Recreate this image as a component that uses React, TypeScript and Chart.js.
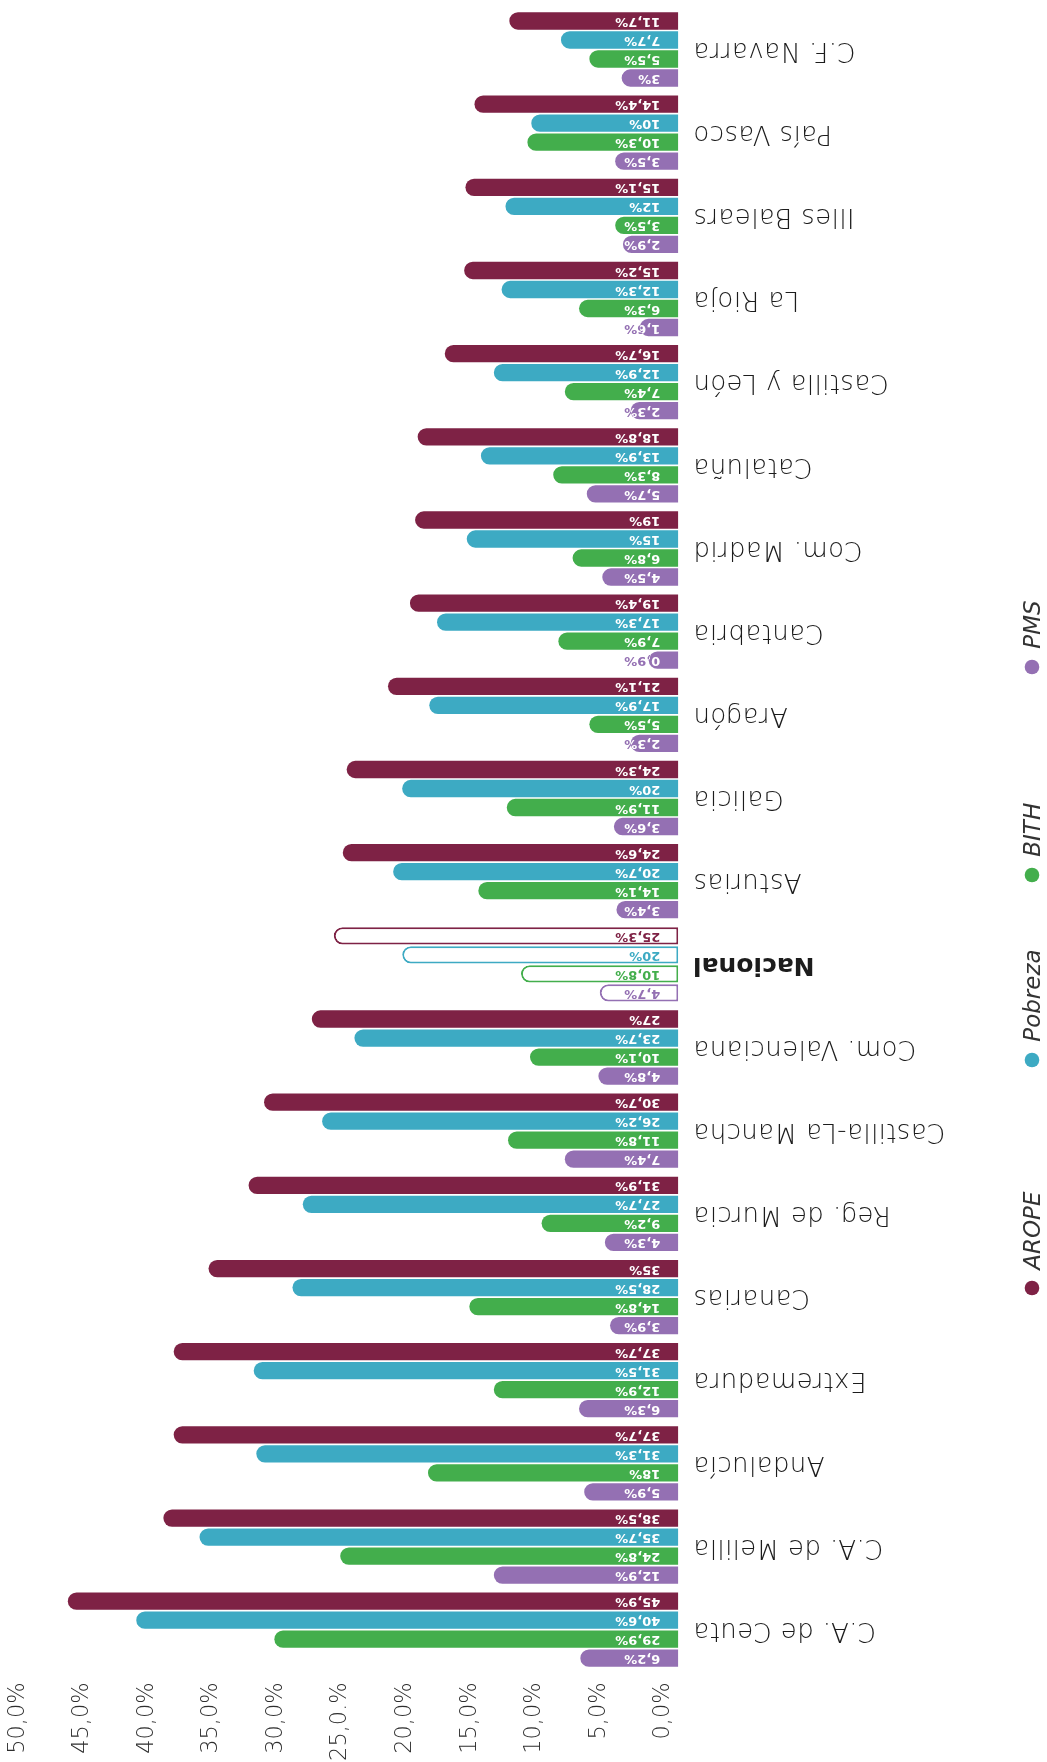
import React, { useEffect, useRef } from 'react';
import { Chart, registerables } from 'chart.js';

Chart.register(...registerables);

const categories = [
  'C.F. Navarra', 'País Vasco', 'Illes Balears', 'La Rioja', 'Castilla y León', 'Cataluña',
  'Com. Madrid', 'Cantabria', 'Aragón', 'Galicia', 'Asturias', 'Nacional', 'Com. Valenciana',
  'Castilla-La Mancha', 'Reg. de Murcia', 'Canarias', 'Extremadura', 'Andalucía',
  'C.A. de Melilla', 'C.A. de Ceuta',
];
const highlightCategory = 'Nacional';

const arope = [11.7, 14.4, 15.1, 15.2, 16.7, 18.8, 19, 19.4, 21.1, 24.3, 24.6, 25.3, 27, 30.7, 31.9, 35, 37.7, 37.7, 38.5, 45.9];
const pobreza = [7.7, 10, 12, 12.3, 12.9, 13.9, 15, 17.3, 17.9, 20, 20.7, 20, 23.7, 26.2, 27.7, 28.5, 31.5, 31.3, 35.7, 40.6];
const bith = [5.5, 10.3, 3.5, 6.3, 7.4, 8.3, 6.8, 7.9, 5.5, 11.9, 14.1, 10.8, 10.1, 11.8, 9.2, 14.8, 12.9, 18, 24.8, 29.9];
const pms = [3, 3.5, 2.9, 1.6, 2.3, 5.7, 4.5, 0.9, 2.3, 3.6, 3.4, 4.7, 4.8, 7.4, 4.3, 3.9, 6.3, 5.9, 12.9, 6.2];

const seriesNames = ['AROPE', 'Pobreza', 'BITH', 'PMS'];
const seriesData = [arope, pobreza, bith, pms];
const seriesColors = ['#7e2245', '#3daac3', '#43ae4c', '#9470b3'];

const tickValues = [0, 5, 10, 15, 20, 25, 30, 35, 40, 45, 50];
const tickLabels = ['0,0%', '5,0%', '10,0%', '15,0%', '20,0%', '25,0.%', '30,0%', '35,0%', '40,0%', '45,0%', '50,0%'];

// layout constants (styles)
const W = 1047;
const H = 1762;
const BAR_BASE = -1.39;
const FONT = '"DejaVu Sans", sans-serif';
const legendDotY = [1288, 1060, 875, 667];
const legendX = 1032;

const fmt = (v: number) => String(v).replace('.', ',') + '%';

const labelsPlugin = {
  id: 'customLabels',
  afterDatasetsDraw(chart: any) {
    const { ctx, chartArea } = chart;
    const xScale = chart.scales.x;
    const yScale = chart.scales.y;
    const x0 = xScale.getPixelForValue(0);

    // value labels inside bars (upside down)
    chart.data.datasets.forEach((ds: any, di: number) => {
      const meta = chart.getDatasetMeta(di);
      meta.data.forEach((bar: any, i: number) => {
        const { x, y, base, height } = bar.getProps(['x', 'y', 'base', 'height'], true);
        const text = fmt(ds.data[i]);
        const left = Math.min(x, base);
        const right = Math.max(x, base);
        const top = y - height / 2;
        const r = Math.min(height / 2, (right - left) / 2);
        const drawText = (color: string) => {
          ctx.save();
          ctx.translate(x0, y + 0.5);
          ctx.rotate(Math.PI);
          ctx.font = 'bold 13px ' + FONT;
          ctx.fillStyle = color;
          ctx.textAlign = 'left';
          ctx.textBaseline = 'middle';
          ctx.fillText(text, 0, 0);
          ctx.restore();
        };
        const color = seriesColors[di];
        if (categories[i] === highlightCategory) {
          drawText(color);
          return;
        }
        ctx.save();
        ctx.beginPath();
        ctx.roundRect(left, top, right - left, height, [r, 0, 0, r]);
        ctx.clip();
        drawText('#ffffff');
        ctx.restore();

        ctx.save();
        ctx.beginPath();
        ctx.rect(0, top - 2, W, height + 4);
        ctx.roundRect(left, top, right - left, height, [r, 0, 0, r]);
        ctx.clip('evenodd');
        drawText(color);
        ctx.restore();
      });
    });

    // category labels (upside down)
    const labelX = chartArea.right + 14.7;
    categories.forEach((c, i) => {
      const y = yScale.getPixelForValue(i);
      ctx.save();
      ctx.translate(labelX, y);
      ctx.rotate(Math.PI);
      ctx.font = (c === highlightCategory ? 'bold 25px ' : '200 26px ') + FONT;
      (ctx as any).letterSpacing = c === highlightCategory ? '0px' : '0.4px';
      ctx.fillStyle = '#1c1c1c';
      ctx.textAlign = 'right';
      ctx.textBaseline = 'middle';
      ctx.fillText(c, 0, 0);
      ctx.restore();
    });

    // legend (rotated, reading upward)
    seriesNames.forEach((name, k) => {
      const dy = legendDotY[k];
      ctx.save();
      ctx.beginPath();
      ctx.arc(legendX, dy, 7.3, 0, Math.PI * 2);
      ctx.fillStyle = seriesColors[k];
      ctx.fill();
      ctx.translate(legendX + 2, dy - 18.3);
      ctx.rotate(-Math.PI / 2);
      ctx.font = 'italic 200 23px ' + FONT;
      ctx.fillStyle = '#333333';
      ctx.textAlign = 'left';
      ctx.textBaseline = 'middle';
      ctx.fillText(name, 0, 0);
      ctx.restore();
    });
  },
};

export default function App() {
  const canvasRef = useRef<HTMLCanvasElement | null>(null);

  useEffect(() => {
    const canvas = canvasRef.current;
    if (!canvas) return;
    const datasets = seriesNames.map((name, k) => ({
      label: name,
      data: seriesData[k],
      base: BAR_BASE,
      backgroundColor: categories.map((c) => (c === highlightCategory ? '#ffffff' : seriesColors[k])),
      borderColor: seriesColors[k],
      borderWidth: categories.map((c) => (c === highlightCategory ? 2 : 0)),
      borderSkipped: false as const,
      borderRadius: { topLeft: 10, bottomLeft: 10, topRight: 0, bottomRight: 0 },
      barPercentage: 0.91,
      categoryPercentage: 0.914,
    }));

    const chart = new Chart(canvas, {
      type: 'bar',
      data: { labels: categories, datasets },
      options: {
        indexAxis: 'y',
        responsive: false,
        maintainAspectRatio: false,
        devicePixelRatio: 1,
        animation: false,
        layout: { padding: { left: 14.9, right: W - 678.3, top: 7.9, bottom: 0 } },
        plugins: {
          legend: { display: false },
          tooltip: { enabled: false },
        },
        scales: {
          x: {
            type: 'linear',
            position: 'bottom',
            reverse: true,
            min: BAR_BASE,
            max: 50,
            grid: { display: false, drawTicks: false },
            border: { display: false },
            afterBuildTicks: (scale: any) => {
              scale.ticks = tickValues.map((v) => ({ value: v }));
            },
            afterFit: (scale: any) => {
              scale.height = H - 1671.3;
            },
            ticks: {
              autoSkip: false,
              minRotation: 90,
              maxRotation: 90,
              padding: 11,
              labelOffset: 3,
              color: '#2e2e2e',
              font: { family: FONT, size: 22.5, weight: '200' as any },
              callback: (value: any) => {
                const idx = tickValues.indexOf(Number(value));
                return idx >= 0 ? tickLabels[idx] : '';
              },
            },
          },
          y: {
            type: 'category',
            display: false,
            grid: { display: false },
          },
        },
      },
      plugins: [labelsPlugin],
    });
    return () => chart.destroy();
  }, []);

  return (
    <div style={{ position: 'absolute', left: 0, top: 0, width: W, height: H, background: '#ffffff' }}>
      <canvas ref={canvasRef} width={W} height={H} style={{ display: 'block', width: W, height: H }} />
    </div>
  );
}
